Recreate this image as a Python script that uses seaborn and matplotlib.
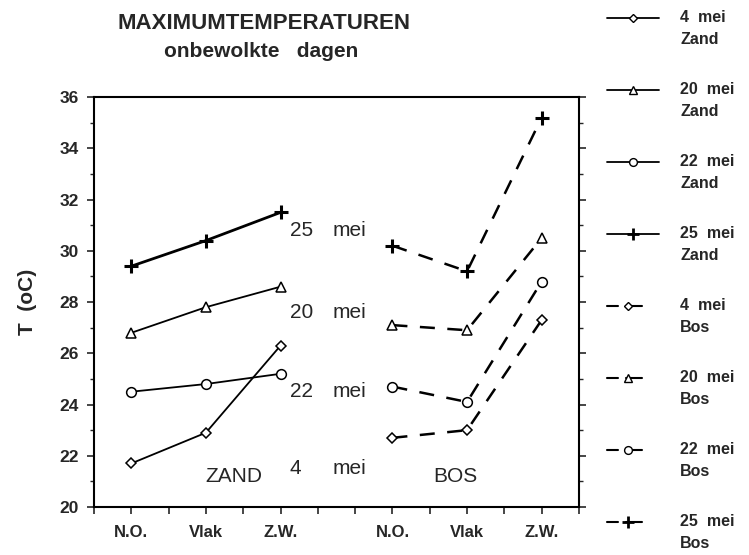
import matplotlib
matplotlib.use("Agg")
import matplotlib.pyplot as plt
import seaborn as sns
import pandas as pd
from matplotlib.ticker import MultipleLocator

# data
sites = ["N.O.", "Vlak", "Z.W."]
days = ["4 mei", "20 mei", "22 mei", "25 mei"]
zand_4 = [21.7, 22.9, 26.3]
zand_20 = [26.8, 27.8, 28.6]
zand_22 = [24.5, 24.8, 25.2]
zand_25 = [29.4, 30.4, 31.5]
bos_4 = [22.7, 23.0, 27.3]
bos_20 = [27.1, 26.9, 30.5]
bos_22 = [24.7, 24.1, 28.8]
bos_25 = [30.2, 29.2, 35.2]
# where the day labels sit between the two groups (temperature)
label_y = [21.5, 27.6, 24.5, 30.8]

sns.set_style("ticks")
plt.rcParams["font.family"] = ["Liberation Sans", "DejaVu Sans"]

fig = plt.figure(figsize=(7.49, 5.55), dpi=100)
ax = fig.add_axes([0.1255, 0.0865, 0.6475, 0.7385])

zand_pos = [1, 3, 5]
bos_pos = [8, 10, 12]
markers = ["D", "^", "o", "+"]
msizes = [5, 7, 7, 10]
zand = [zand_4, zand_20, zand_22, zand_25]
bos = [bos_4, bos_20, bos_22, bos_25]

for vals, m, ms in zip(zand, markers, msizes):
    lw = 2.0 if m == "+" else 1.3
    sns.lineplot(x=zand_pos, y=vals, ax=ax, color="k", lw=lw, marker=m,
                 markersize=ms, markerfacecolor="white", markeredgecolor="k",
                 markeredgewidth=2.2 if m == "+" else 1.1)
for vals, m, ms in zip(bos, markers, msizes):
    sns.lineplot(x=bos_pos, y=vals, ax=ax, color="k", lw=1.8,
                 linestyle=(0, (6, 5)), marker=m, markersize=ms,
                 markerfacecolor="white", markeredgecolor="k",
                 markeredgewidth=2.2 if m == "+" else 1.1)

for d, yv in zip(days, label_y):
    num, word = d.split()
    ax.text(5.25, yv, num, fontsize=15, va="center", ha="left")
    ax.text(6.4, yv, word, fontsize=15, va="center", ha="left")

ax.text(3.75, 21.2, "ZAND", fontsize=15, ha="center", va="center")
ax.text(9.7, 21.2, "BOS", fontsize=15, ha="center", va="center")

ax.set_xlim(0, 13)
ax.set_ylim(20, 36)
ax.set_xticks(range(14))
xlabels = [""] * 14
for p, s in zip(zand_pos + bos_pos, sites + sites):
    xlabels[p] = s
ax.set_xticklabels(xlabels, fontsize=12, fontweight="bold")
ax.yaxis.set_major_locator(MultipleLocator(2))
ax.yaxis.set_minor_locator(MultipleLocator(1))
ax.tick_params(axis="y", which="both", right=True, direction="out")
ax.tick_params(axis="y", which="major", length=5, width=1.2, labelsize=12.5,
               pad=6)
ax.tick_params(axis="y", which="minor", length=3, width=1.0)
ax.tick_params(axis="x", length=5, width=1.2, pad=8)
for lab in ax.get_yticklabels():
    lab.set_fontweight("bold")
for sp in ax.spines.values():
    sp.set_visible(True)
    sp.set_linewidth(1.5)
    sp.set_color("k")
ax.set_ylabel("T  (oC)", fontsize=15, fontweight="bold", labelpad=16)

fig.text(0.352, 0.958, "MAXIMUMTEMPERATUREN", fontsize=16, fontweight="bold",
         ha="center", va="center")
fig.text(0.348, 0.908, "onbewolkte   dagen", fontsize=15,
         fontweight="bold", ha="center", va="center")

# legend drawn by hand on the right, in pixel coordinates
lg = fig.add_axes([600 / 749, 0, 149 / 749, 1])
lg.set_xlim(600, 749)
lg.set_ylim(555, 0)
lg.axis("off")
entries = [(d, "Zand", m, ms, "-") for d, m, ms in zip(days, markers, msizes)] + \
          [(d, "Bos", m, ms, "--") for d, m, ms in zip(days, markers, msizes)]
for i, (d, site, m, ms, ls) in enumerate(entries):
    y0 = 18 + 72 * i
    if ls == "-":
        lg.plot([607, 633, 659], [y0] * 3, color="k", lw=1.3, marker=m,
                markevery=[1], markersize=ms * 0.8, markerfacecolor="white",
                markeredgewidth=2 if m == "+" else 1)
    else:
        lg.plot([607, 618], [y0] * 2, color="k", lw=1.5)
        lg.plot([626, 642], [y0] * 2, color="k", lw=1.5)
        lg.plot([628], [y0], color="k", marker=m, markersize=ms * 0.8,
                markerfacecolor="white", markeredgewidth=2 if m == "+" else 1)
    num, word = d.split()
    lg.text(680, y0, num + "  " + word, fontsize=11.5, fontweight="bold",
            va="center", ha="left")
    lg.text(680, y0 + 22, site, fontsize=11.5, fontweight="bold",
            va="center", ha="left")

fig.savefig("out.png", dpi=100)
